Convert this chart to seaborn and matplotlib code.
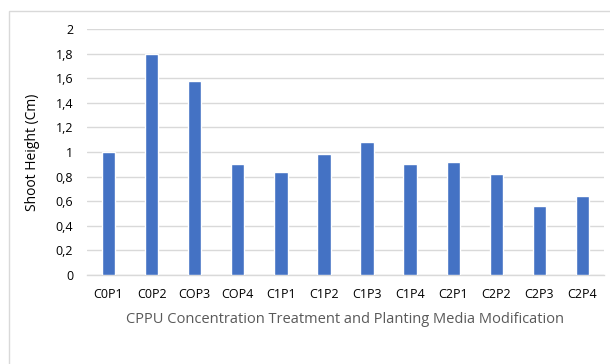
import matplotlib
matplotlib.use("Agg")
import matplotlib.pyplot as plt
import seaborn as sns
import pandas as pd
from matplotlib.patches import Rectangle

categories = ["C0P1", "C0P2", "COP3", "COP4", "C1P1", "C1P2", "C1P3", "C1P4",
              "C2P1", "C2P2", "C2P3", "C2P4"]
shoot_height = [1.0, 1.8, 1.58, 0.9, 0.84, 0.98, 1.08, 0.9, 0.92, 0.82, 0.56, 0.64]
yticks = [0, 0.2, 0.4, 0.6, 0.8, 1.0, 1.2, 1.4, 1.6, 1.8, 2.0]
ytick_labels = ["0", "0,2", "0,4", "0,6", "0,8", "1", "1,2", "1,4", "1,6", "1,8", "2"]

df = pd.DataFrame({"cat": categories, "val": shoot_height})

sns.set_style("white")
plt.rcParams["font.family"] = ["Open Sans", "DejaVu Sans"]

W, H = 610, 364
fig = plt.figure(figsize=(W / 100, H / 100), dpi=100)
ax = fig.add_axes([87 / W, 1 - 275 / H, (604 - 87) / W, (275 - 29) / H])

sns.barplot(data=df, x="cat", y="val", color="#4472C4", saturation=1,
            width=0.31, ax=ax, zorder=3)

ax.set_ylim(0, 2)
ax.set_xlim(-0.5, len(categories) - 0.5)
ax.set_yticks(yticks)
ax.set_yticklabels(ytick_labels)
ax.yaxis.grid(True, color="#D9D9D9", linewidth=1)
ax.set_axisbelow(True)
for s in ["top", "right", "left"]:
    ax.spines[s].set_visible(False)
ax.spines["bottom"].set_color("#D9D9D9")
ax.spines["bottom"].set_linewidth(1)
ax.tick_params(axis="both", length=0, labelsize=9, colors="#000000")
ax.tick_params(axis="y", pad=10)
ax.tick_params(axis="x", pad=9)

ax.set_xlabel("CPPU Concentration Treatment and Planting Media Modification",
              fontsize=10.5, color="#595959", labelpad=8)
ax.set_ylabel("Shoot Height (Cm)", fontsize=10, color="#000000", labelpad=11)

fig.patches.append(Rectangle((9 / W, -0.1), 1.0, 1.1 - 11 / H, transform=fig.transFigure,
                             fill=False, edgecolor="#D9D9D9", linewidth=1))

fig.savefig("out.png", dpi=100)
